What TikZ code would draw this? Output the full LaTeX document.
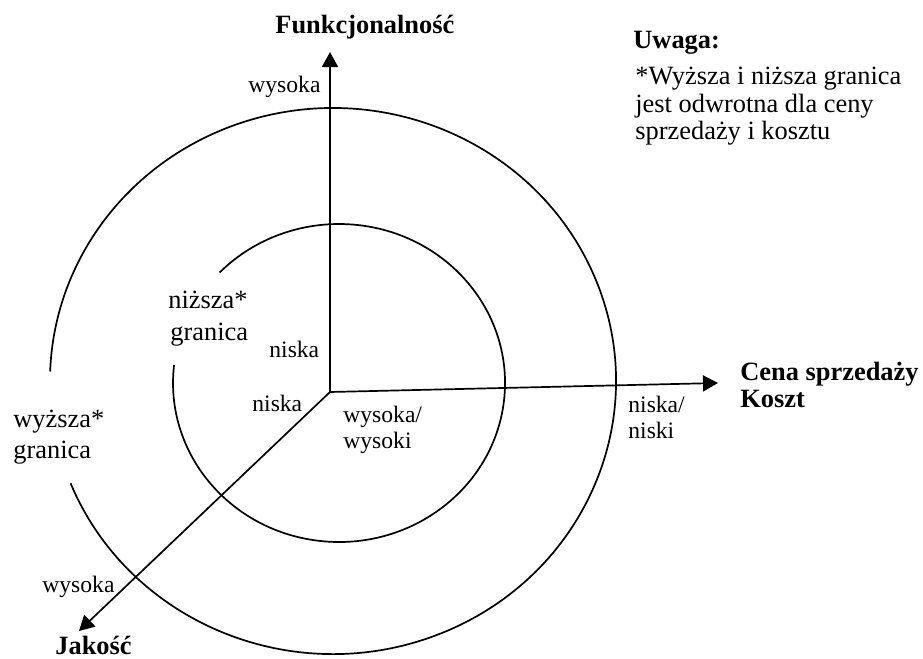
\documentclass[tikz,border=0pt]{standalone}
\usepackage{fontspec}
\setmainfont{Liberation Serif}
\usetikzlibrary{arrows.meta}
\begin{document}
\begin{tikzpicture}[x=0.5pt,y=0.5pt,
  lbl/.style={anchor=base west,inner sep=0pt,font=\fontsize{11.8}{14}\selectfont},
  big/.style={anchor=base west,inner sep=0pt,font=\fontsize{13.2}{15}\selectfont},
  bigb/.style={anchor=base west,inner sep=0pt,font=\fontsize{13.2}{15}\selectfont\bfseries},
  axis/.style={line width=0.85pt,-{Triangle[length=7.5pt,width=8pt]}},
  ring/.style={line width=0.85pt}]
\useasboundingbox (0,0) rectangle (923,-659);
% axes
\coordinate (O) at (330,-392);
\coordinate (Fend) at (330,-52);
\coordinate (Cend) at (718,-383);
\coordinate (Jend) at (79,-631);
\draw[axis] (O) -- (Fend);
\draw[axis] (O) -- (Cend);
\draw[axis] (O) -- (Jend);
% ellipses
\draw[ring] (70.6,-483.3) arc[start angle=202,end angle=538,x radius=283,y radius=273];
\draw[ring] (174.1,-365) arc[start angle=173.5,end angle=496,x radius=166,y radius=159];
% labels
\node[bigb] (funk) at (275,-33) {Funkcjonalność};
\node[lbl] (fwys) at (248,-92) {wysoka};
\node[bigb] (uwaga) at (633,-48) {Uwaga:};
\node[big] (u1) at (635,-84) {*Wyższa i niższa granica};
\node[big] (u2) at (635,-112) {jest odwrotna dla ceny};
\node[big] (u3) at (635,-139) {sprzedaży i kosztu};
\node[big] (nz1) at (168,-308) {niższa*};
\node[big] (nz2) at (170,-340) {granica};
\node[lbl] (nfk) at (269,-357) {niska};
\node[lbl] (njk) at (252,-411) {niska};
\node[big] (wz1) at (13,-427) {wyższa*};
\node[big] (wz2) at (13,-458) {granica};
\node[lbl] (wc1) at (343,-422) {wysoka/};
\node[lbl] (wc2) at (343,-448) {wysoki};
\node[lbl] (nc1) at (628,-412) {niska/};
\node[lbl] (nc2) at (628,-438) {niski};
\node[bigb] (cena) at (740,-380) {Cena sprzedaży};
\node[bigb] (koszt) at (740,-407) {Koszt};
\node[lbl] (jwys) at (42,-592) {wysoka};
\node[bigb] (jak) at (55,-654) {Jakość};
\end{tikzpicture}
\end{document}
